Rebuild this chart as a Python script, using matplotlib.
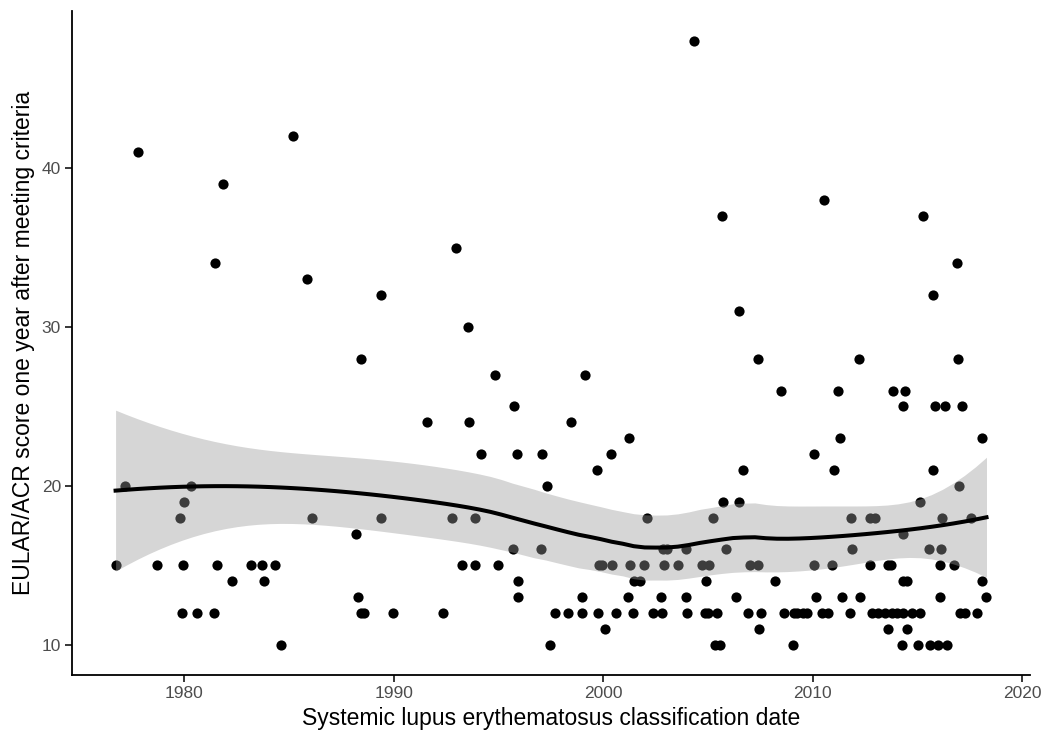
import numpy as np
import matplotlib.pyplot as plt

plt.rcParams['font.family'] = ['Liberation Sans', 'DejaVu Sans']

# classification year and EULAR/ACR score
years = [1976.71, 1977.18, 1977.76, 1978.71, 1979.79, 1979.86, 1979.94, 1979.97,
         1980.30, 1980.62, 1981.42, 1981.45, 1981.53, 1981.86, 1982.29, 1983.20,
         1983.69, 1983.79, 1984.31, 1984.63, 1985.16, 1985.84, 1986.11, 1988.21,
         1988.31, 1988.42, 1988.45, 1988.59, 1989.37, 1989.40, 1989.94, 1991.60,
         1992.35, 1992.76, 1992.95, 1993.26, 1993.56, 1993.57, 1993.86, 1993.89,
         1994.16, 1994.82, 1994.98, 1995.67, 1995.75, 1995.88, 1995.94, 1995.92,
         1997.03, 1997.07, 1997.29, 1997.47, 1997.71, 1998.30, 1998.47, 1998.96,
         1999.00, 1999.11, 1999.70, 1999.75, 1999.78, 1999.94, 2000.08, 2000.38,
         2000.43, 2000.62, 2001.16, 2001.24, 2001.29, 2001.42, 2001.48, 2001.77,
         2001.96, 2002.09, 2002.37, 2002.74, 2002.80, 2002.83, 2002.90, 2003.04,
         2003.57, 2003.95, 2003.96, 2004.01, 2004.34, 2004.71, 2004.90, 2004.87,
         2004.98, 2005.07, 2005.25, 2005.35, 2005.43, 2005.58, 2005.69, 2005.74,
         2005.86, 2006.32, 2006.49, 2006.49, 2006.65, 2006.92, 2007.02, 2007.40,
         2007.41, 2007.45, 2007.51, 2008.21, 2008.48, 2008.61, 2009.06, 2009.09,
         2009.25, 2009.56, 2009.72, 2010.04, 2010.07, 2010.18, 2010.44, 2010.52,
         2010.75, 2010.94, 2011.01, 2011.20, 2011.30, 2011.41, 2011.76, 2011.82,
         2011.90, 2012.20, 2012.24, 2012.74, 2012.98, 2012.76, 2012.81, 2013.13,
         2013.46, 2013.78, 2014.03, 2014.33, 2014.74, 2015.13, 2013.59, 2013.59,
         2013.75, 2013.84, 2014.26, 2014.29, 2014.29, 2014.29, 2014.50, 2014.50,
         2014.42, 2015.04, 2015.13, 2015.27, 2015.57, 2015.61, 2015.74, 2015.75,
         2015.86, 2016.00, 2016.07, 2016.09, 2016.13, 2016.17, 2016.32, 2016.40,
         2016.77, 2016.93, 2016.90, 2016.98, 2017.04, 2017.15, 2017.28, 2017.55,
         2017.85, 2018.10, 2018.10, 2018.30]
scores = [15, 20, 41, 15, 18, 12, 15, 19,
          20, 12, 12, 34, 15, 39, 14, 15,
          15, 14, 15, 10, 42, 33, 18, 17,
          13, 28, 12, 12, 32, 18, 12, 24,
          12, 18, 35, 15, 30, 24, 18, 15,
          22, 27, 15, 16, 25, 22, 14, 13,
          16, 22, 20, 10, 12, 12, 24, 13,
          12, 27, 21, 12, 15, 15, 11, 22,
          15, 12, 13, 23, 15, 12, 14, 14,
          15, 18, 12, 13, 12, 16, 15, 16,
          15, 16, 13, 12, 48, 15, 14, 12,
          12, 15, 18, 10, 12, 10, 37, 19,
          16, 13, 31, 19, 21, 12, 15, 28,
          15, 11, 12, 14, 26, 12, 10, 12,
          12, 12, 12, 15, 22, 13, 12, 38,
          12, 15, 21, 26, 23, 13, 12, 18,
          16, 28, 13, 18, 18, 15, 12, 12,
          12, 12, 12, 12, 12, 12, 11, 15,
          15, 26, 10, 17, 25, 14, 14, 11,
          26, 10, 19, 37, 16, 10, 21, 32,
          25, 10, 13, 15, 16, 18, 25, 10,
          15, 28, 34, 20, 12, 25, 12, 18,
          12, 23, 14, 13]

x = np.array(years)
y = np.array(scores, dtype=float)


# local quadratic loess (span 0.75, tricube weights), like geom_smooth's default
def loess_rows(x, xout, span=0.75):
    n = len(x)
    q = int(np.floor(n * span))
    rows = []
    for x0 in xout:
        d = np.abs(x - x0)
        h = np.sort(d)[q - 1]
        w = np.clip(1 - (d / h) ** 3, 0, None) ** 3
        X = np.column_stack([np.ones(n), x - x0, (x - x0) ** 2])
        XtW = X.T * w
        rows.append(np.linalg.solve(XtW @ X, XtW)[0])
    return np.array(rows)


L = loess_rows(x, x)
resid = y - L @ y
M = (np.eye(len(x)) - L).T @ (np.eye(len(x)) - L)
delta1 = np.trace(M)
delta2 = np.trace(M @ M)
s = np.sqrt(np.sum(resid ** 2) / delta1)
df = delta1 ** 2 / delta2
z = 1.959964
tq = z + (z ** 3 + z) / (4 * df)

grid = np.linspace(x.min(), x.max(), 80)
Lg = loess_rows(x, grid)
fit = Lg @ y
se = s * np.sqrt(np.sum(Lg ** 2, axis=1))

fig = plt.figure(figsize=(10.5, 7.4), dpi=100)
ax = fig.add_axes([0.0686, 0.0878, 0.9124, 0.8976])

ax.scatter(x, y, s=54, color='black', linewidths=0, zorder=2)
ax.fill_between(grid, fit - tq * se, fit + tq * se, color='#999999', alpha=0.4,
                linewidth=0, zorder=3)
ax.plot(grid, fit, color='black', lw=2.9, zorder=4)

ax.set_xlim(1974.63, 2020.38)
ax.set_ylim(8.1, 49.9)
ax.set_xticks([1980, 1990, 2000, 2010, 2020])
ax.set_yticks([10, 20, 30, 40])

for side in ['top', 'right']:
    ax.spines[side].set_visible(False)
for side in ['left', 'bottom']:
    ax.spines[side].set_linewidth(1.3)
ax.tick_params(length=5, width=1.1, color='black', labelsize=12.5, labelcolor='#4d4d4d',
               pad=3)

ax.set_xlabel('Systemic lupus erythematosus classification date', fontsize=16.5, labelpad=4)
ax.set_ylabel('EULAR/ACR score one year after meeting criteria', fontsize=16.5, labelpad=5)

fig.savefig('out.png', dpi=100)
